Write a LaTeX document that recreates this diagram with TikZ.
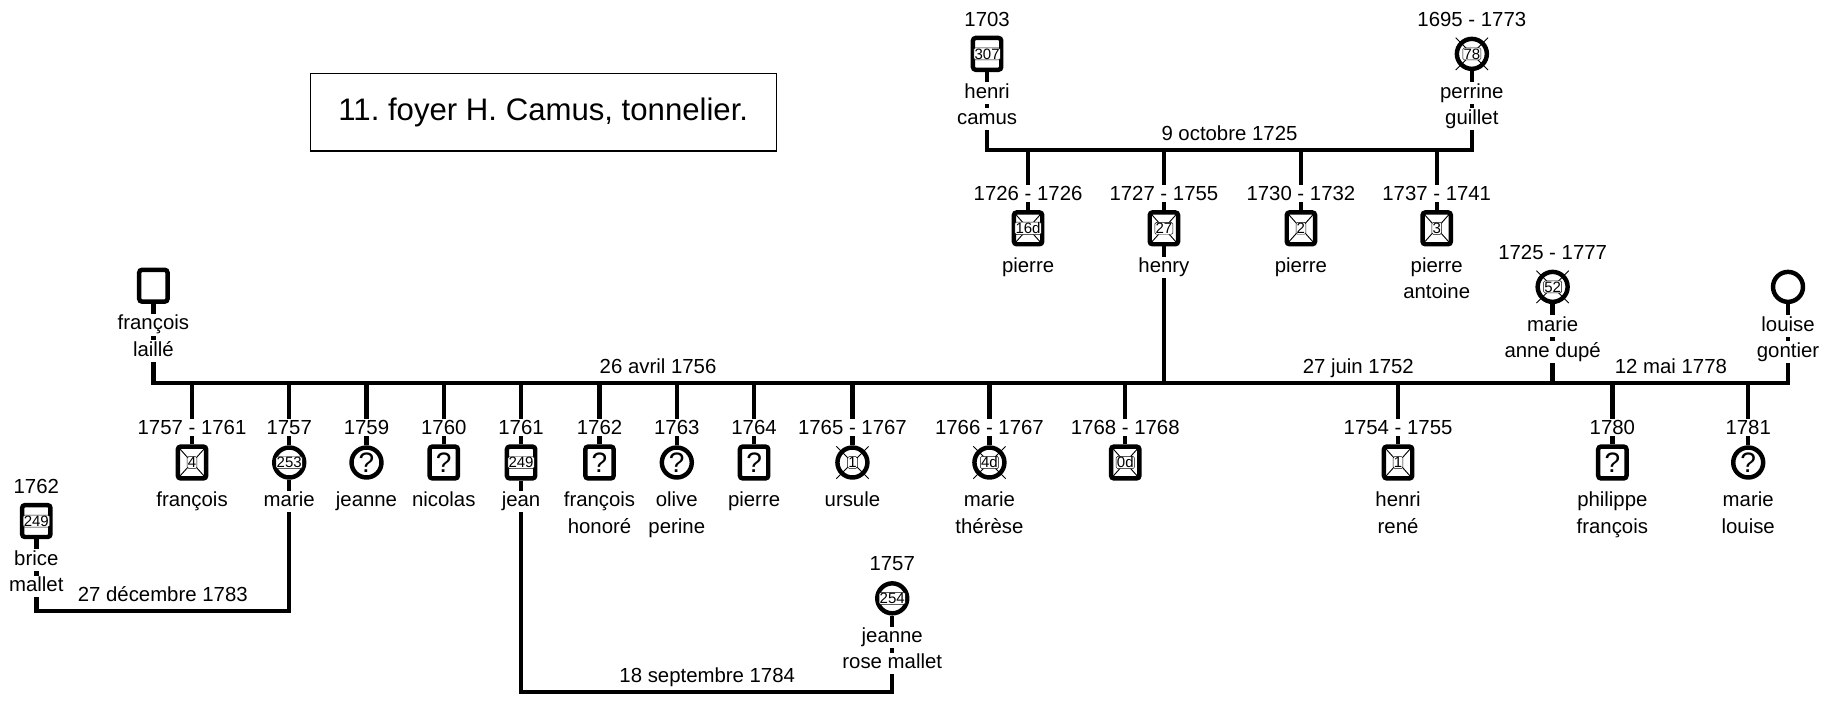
\documentclass[tikz,border=0pt]{standalone}
\usepackage{fontspec}
\setmainfont{Liberation Sans}
\usepackage{tikz}
\usetikzlibrary{positioning}
\frenchspacing
\tikzstyle{link} = [line width=1.9pt]
\tikzset{every node/.style={align=center}}
\newcommand{\xmark}[1]{\draw[line width=0.4pt] ([shift={(-6.9pt,-6.9pt)}]#1.center) -- ([shift={(6.9pt,6.9pt)}]#1.center)
  ([shift={(-6.9pt,6.9pt)}]#1.center) -- ([shift={(6.9pt,-6.9pt)}]#1.center);}

\begin{document}
\begin{tikzpicture}[x=0.5pt, y=-0.5pt,
    male/.style={rectangle, rounded corners=1.2pt, draw, line width=1.9pt, fill=white,
                 minimum width=12.1pt, minimum height=13.6pt, inner sep=0pt, font=\fontsize{12}{12}\selectfont},
    female/.style={circle, draw, line width=1.9pt, fill=white,
                 minimum size=12.8pt, inner sep=0pt, font=\fontsize{12}{12}\selectfont},
    deadm/.style={male, path picture={\draw[line width=0.4pt]
                 (path picture bounding box.north west) -- (path picture bounding box.south east)
                 (path picture bounding box.south west) -- (path picture bounding box.north east);}},
    num/.style={draw, line width=0.2pt, rounded corners=0.6pt, fill=white, inner sep=0.3pt, font=\fontsize{6.4}{7}\selectfont},
    yr/.style={fill=white, inner sep=0.6pt, text height=6.2pt, text depth=0pt, font=\fontsize{8.7}{9}\selectfont},
    nm/.style={fill=white, inner sep=0.6pt, text height=6.2pt, text depth=1.8pt, font=\fontsize{8.7}{9}\selectfont},
    wed/.style={inner sep=0.6pt, text height=6.2pt, text depth=1.8pt, font=\fontsize{8.7}{9}\selectfont}
]
  \useasboundingbox (0,0) rectangle (1568,599);

  \node[draw, line width=0.5pt, minimum width=199pt, minimum height=33pt, font=\fontsize{13.3}{15}\selectfont]
       (title) at (464,96) {11. foyer H. Camus, tonnelier.};

  % --- foyer Camus - Guillet ---
  \node[male]   (hc) at (843,46)   {};
  \node[female] (pg) at (1257,46)  {};
  \node[deadm]  (p1) at (878,195)  {};
  \node[deadm]  (hy) at (994,195)  {};
  \node[deadm]  (p2) at (1111,195) {};
  \node[deadm]  (p3) at (1227,195) {};
  \xmark{pg}
  \node[num] (hc-l) at (hc) {307};
  \node[num] (pg-l) at (pg) {78};
  \node[num] (p1-l) at (p1) {16d};
  \node[num] (hy-l) at (hy) {27};
  \node[num] (p2-l) at (p2) {2};
  \node[num] (p3-l) at (p3) {3};

  % --- foyers Laillé, Dupé, Gontier ---
  \node[male]   (fl)  at (131,244)  {};
  \node[female] (md)  at (1326,245) {};
  \node[female] (lg)  at (1527,245) {};
  \node[deadm]  (c1)  at (164,395)  {};
  \node[female] (ma)  at (247,395)  {};
  \node[female] (c3)  at (313,395)  {?};
  \node[male]   (c4)  at (379,395)  {?};
  \node[male]   (je)  at (445,395)  {};
  \node[male]   (c6)  at (512,395)  {?};
  \node[female] (c7)  at (578,395)  {?};
  \node[male]   (c8)  at (644,395)  {?};
  \node[female] (c9)  at (728,395)  {};
  \node[female] (c10) at (845,395)  {};
  \node[deadm]  (c11) at (961,395)  {};
  \node[deadm]  (hr)  at (1194,395) {};
  \node[male]   (pf)  at (1377,395) {?};
  \node[female] (ml)  at (1493,395) {?};
  \node[male]   (bm)  at (31,445)   {};
  \node[female] (jr)  at (762,511)  {};
  \xmark{md} \xmark{c9} \xmark{c10}
  \node[num] (md-l)  at (md)  {52};
  \node[num] (c1-l)  at (c1)  {4};
  \node[num] (ma-l)  at (ma)  {253};
  \node[num] (je-l)  at (je)  {249};
  \node[num] (c9-l)  at (c9)  {1};
  \node[num] (c10-l) at (c10) {4d};
  \node[num] (c11-l) at (c11) {0d};
  \node[num] (hr-l)  at (hr)  {1};
  \node[num] (bm-l)  at (bm)  {249};
  \node[num] (jr-l)  at (jr)  {254};

  % --- marriage lines ---
  \coordinate (m1) at (1050,128);
  \coordinate (m2) at (562,327);
  \coordinate (m3) at (1160,327);
  \coordinate (m4) at (1427,327);
  \coordinate (m5) at (139,522);
  \coordinate (m6) at (604,591);
  \draw[link] (hc) |- (m1) -| (pg);
  \draw[link] (p1) -- (p1 |- m1)  (hy) -- (hy |- m1)  (p2) -- (p2 |- m1)  (p3) -- (p3 |- m1);
  \draw[link] (fl) |- (m2) -| (hy);
  \draw[link] (hy) |- (m3) -| (md);
  \draw[link] (md) |- (m4) -| (lg);
  \draw[link] (c1) -- (c1 |- m2)  (ma) -- (ma |- m2)  (c3) -- (c3 |- m2)  (c4) -- (c4 |- m2)
              (je) -- (je |- m2)  (c6) -- (c6 |- m2)  (c7) -- (c7 |- m2)  (c8) -- (c8 |- m2)
              (c9) -- (c9 |- m2)  (c10) -- (c10 |- m2)  (c11) -- (c11 |- m2);
  \draw[link] (hr) -- (hr |- m3);
  \draw[link] (pf) -- (pf |- m4)  (ml) -- (ml |- m4);
  \draw[link] (ma) |- (m5) -| (bm);
  \draw[link] (je) |- (m6) -| (jr);

  \node[wed, above=1.4pt of m1] (m1-t) {9 octobre 1725};
  \node[wed, above=1.4pt of m2] (m2-t) {26 avril 1756};
  \node[wed, above=1.4pt of m3] (m3-t) {27 juin 1752};
  \node[wed, above=1.4pt of m4] (m4-t) {12 mai 1778};
  \node[wed, above=1.4pt of m5] (m5-t) {27 décembre 1783};
  \node[wed, above=1.4pt of m6] (m6-t) {18 septembre 1784};

  % --- dates ---
  \node[yr, above=11pt of hc.center]  (hc-y)  {1703};
  \node[yr, above=11pt of pg.center]  (pg-y)  {1695 - 1773};
  \node[yr, above=11pt of p1.center]  (p1-y)  {1726 - 1726};
  \node[yr, above=11pt of hy.center]  (hy-y)  {1727 - 1755};
  \node[yr, above=11pt of p2.center]  (p2-y)  {1730 - 1732};
  \node[yr, above=11pt of p3.center]  (p3-y)  {1737 - 1741};
  \node[yr, above=11pt of md.center]  (md-y)  {1725 - 1777};
  \node[yr, above=11pt of c1.center]  (c1-y)  {1757 - 1761};
  \node[yr, above=11pt of ma.center]  (ma-y)  {1757};
  \node[yr, above=11pt of c3.center]  (c3-y)  {1759};
  \node[yr, above=11pt of c4.center]  (c4-y)  {1760};
  \node[yr, above=11pt of je.center]  (je-y)  {1761};
  \node[yr, above=11pt of c6.center]  (c6-y)  {1762};
  \node[yr, above=11pt of c7.center]  (c7-y)  {1763};
  \node[yr, above=11pt of c8.center]  (c8-y)  {1764};
  \node[yr, above=11pt of c9.center]  (c9-y)  {1765 - 1767};
  \node[yr, above=11pt of c10.center] (c10-y) {1766 - 1767};
  \node[yr, above=11pt of c11.center] (c11-y) {1768 - 1768};
  \node[yr, above=11pt of hr.center]  (hr-y)  {1754 - 1755};
  \node[yr, above=11pt of pf.center]  (pf-y)  {1780};
  \node[yr, above=11pt of ml.center]  (ml-y)  {1781};
  \node[yr, above=11pt of bm.center]  (bm-y)  {1762};
  \node[yr, above=11pt of jr.center]  (jr-y)  {1757};

  % --- names ---
  \node[nm, below=11.9pt of hc.center]  (hc-n)  {henri};
  \node[nm, below=1.6pt of hc-n]        (hc-m)  {camus};
  \node[nm, below=11.9pt of pg.center]  (pg-n)  {perrine};
  \node[nm, below=1.6pt of pg-n]        (pg-m)  {guillet};
  \node[nm, below=11.9pt of p1.center]  (p1-n)  {pierre};
  \node[nm, below=11.9pt of hy.center]  (hy-n)  {henry};
  \node[nm, below=11.9pt of p2.center]  (p2-n)  {pierre};
  \node[nm, below=11.9pt of p3.center]  (p3-n)  {pierre};
  \node[nm, below=1.6pt of p3-n]        (p3-m)  {antoine};
  \node[nm, below=11.9pt of fl.center]  (fl-n)  {françois};
  \node[nm, below=1.6pt of fl-n]        (fl-m)  {laillé};
  \node[nm, below=11.9pt of md.center]  (md-n)  {marie};
  \node[nm, below=1.6pt of md-n]        (md-m)  {anne dupé};
  \node[nm, below=11.9pt of lg.center]  (lg-n)  {louise};
  \node[nm, below=1.6pt of lg-n]        (lg-m)  {gontier};
  \node[nm, below=11.9pt of c1.center]  (c1-n)  {françois};
  \node[nm, below=11.9pt of ma.center]  (ma-n)  {marie};
  \node[nm, below=11.9pt of c3.center]  (c3-n)  {jeanne};
  \node[nm, below=11.9pt of c4.center]  (c4-n)  {nicolas};
  \node[nm, below=11.9pt of je.center]  (je-n)  {jean};
  \node[nm, below=11.9pt of c6.center]  (c6-n)  {françois};
  \node[nm, below=1.6pt of c6-n]        (c6-m)  {honoré};
  \node[nm, below=11.9pt of c7.center]  (c7-n)  {olive};
  \node[nm, below=1.6pt of c7-n]        (c7-m)  {perine};
  \node[nm, below=11.9pt of c8.center]  (c8-n)  {pierre};
  \node[nm, below=11.9pt of c9.center]  (c9-n)  {ursule};
  \node[nm, below=11.9pt of c10.center] (c10-n) {marie};
  \node[nm, below=1.6pt of c10-n]       (c10-m) {thérèse};
  \node[nm, below=11.9pt of hr.center]  (hr-n)  {henri};
  \node[nm, below=1.6pt of hr-n]        (hr-m)  {rené};
  \node[nm, below=11.9pt of pf.center]  (pf-n)  {philippe};
  \node[nm, below=1.6pt of pf-n]        (pf-m)  {françois};
  \node[nm, below=11.9pt of ml.center]  (ml-n)  {marie};
  \node[nm, below=1.6pt of ml-n]        (ml-m)  {louise};
  \node[nm, below=11.9pt of bm.center]  (bm-n)  {brice};
  \node[nm, below=1.6pt of bm-n]        (bm-m)  {mallet};
  \node[nm, below=11.9pt of jr.center]  (jr-n)  {jeanne};
  \node[nm, below=1.6pt of jr-n]        (jr-m)  {rose mallet};
\end{tikzpicture}
\end{document}
